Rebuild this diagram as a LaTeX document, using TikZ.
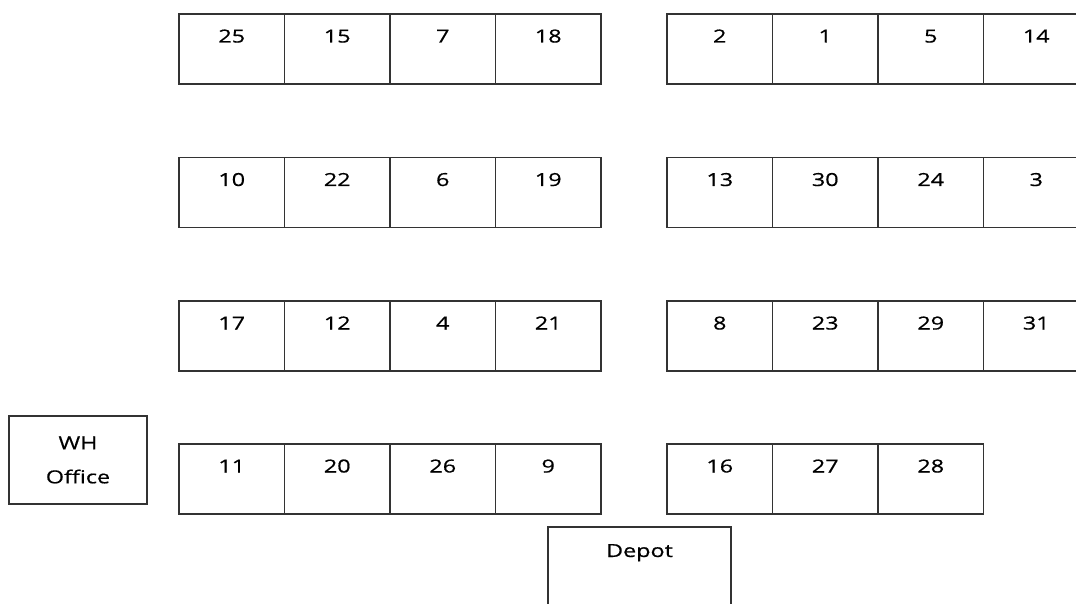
\documentclass[tikz,border=0pt]{standalone}
\usepackage{fontspec}
\setmainfont{Open Sans}[FakeStretch=1.3, FakeBold=0.6]
\usetikzlibrary{positioning}

\begin{document}
\begin{tikzpicture}[x=1pt, y=-1pt, line width=1.5pt,
    cell/.style={draw=black!80, inner sep=0pt, outer sep=0pt, anchor=north west,
      minimum width=105.5pt, text height=28.5pt, text depth=41.5pt,
      font=\fontsize{18}{20}\selectfont},
    room/.style={draw=black!80, inner sep=0pt, outer sep=0pt, align=center,
      font=\fontsize{18}{34}\selectfont}]
    \useasboundingbox (0,0) rectangle (1076,604);
    \clip (0,0) rectangle (1076,604);
    % storage racks, left and right aisle
    \foreach \row/\y/\lcells/\rcells in {1/14/{25,15,7,18}/{2,1,5,14},
        2/157.5/{10,22,6,19}/{13,30,24,3},
        3/301/{17,12,4,21}/{8,23,29,31},
        4/444/{11,20,26,9}/{16,27,28}} {
      \foreach \n [count=\i] in \lcells
        \node[cell] (l\row-\i) at (179+105.5*\i-105.5, \y) {\n};
      \foreach \n [count=\i] in \rcells
        \node[cell] (r\row-\i) at (667+105.5*\i-105.5, \y) {\n};
    }
    \node[room, minimum width=138pt, minimum height=88pt] (office) at (78,460) {WH\\Office};
    \node[room, anchor=north west, minimum width=183pt, text height=30pt, text depth=70pt]
      (depot) at (548,527) {Depot};
  \end{tikzpicture}
\end{document}
